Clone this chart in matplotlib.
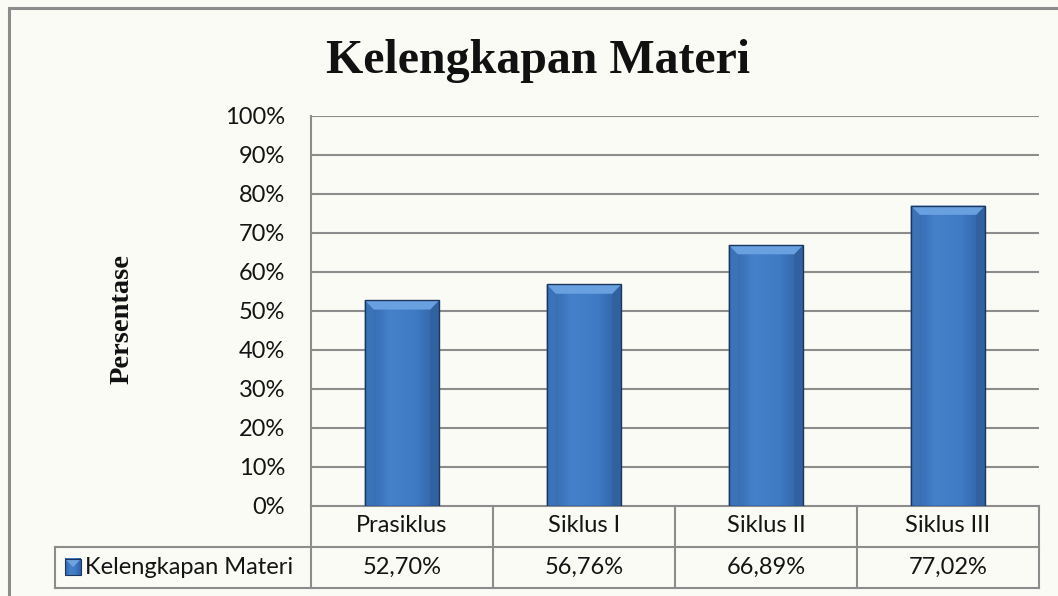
import matplotlib
matplotlib.use("Agg")
import matplotlib.pyplot as plt
import numpy as np
from matplotlib.colors import LinearSegmentedColormap
from matplotlib.patches import Polygon, Rectangle
from matplotlib.transforms import blended_transform_factory

# data
categories = ['Prasiklus', 'Siklus I', 'Siklus II', 'Siklus III']
values = [52.70, 56.76, 66.89, 77.02]
series_name = 'Kelengkapan Materi'
title = 'Kelengkapan Materi'
ylabel = 'Persentase'
yticks = list(range(0, 101, 10))

W, H = 1058, 596
bg = '#fbfbf5'
line_col = '#8c8c8c'
txt_col = '#141414'
sans = ['Lato', 'DejaVu Sans']
serif = ['Liberation Serif', 'DejaVu Serif']
fs = 17

fig = plt.figure(figsize=(W / 100, H / 100), dpi=100, facecolor=bg)

# outer chart frame (runs off the right/bottom edge like the source)
fig.add_artist(Rectangle((9 / W, -0.2), 1.2, 1 - 8 / H + 0.2, transform=fig.transFigure,
                         fill=False, edgecolor=line_col, lw=2.2))

ax = fig.add_axes([311 / W, 1 - 505.5 / H, 728 / W, 389.5 / H])
ax.set_facecolor('none')
x = np.arange(len(categories))

for s in ['top', 'right', 'bottom']:
    ax.spines[s].set_visible(False)
ax.spines['left'].set_color(line_col)
ax.spines['left'].set_linewidth(1.5)

ax.set_yticks(yticks)
ax.set_yticklabels([f'{t}%' for t in yticks], fontfamily=sans, fontsize=fs, color=txt_col)
ax.tick_params(axis='y', length=0, pad=18.5)
ax.set_xticks([])
for t in yticks[1:]:
    ax.axhline(t, color=line_col, lw=1.5, zorder=1)

# bars with a bevelled, gradient look
bw = 0.41
bx = 0.05
by = 2.4
grad_cmap = LinearSegmentedColormap.from_list('bar', ['#3265a8', '#4581cb', '#3f7bc4', '#305fa2'])
grad = np.linspace(0, 1, 64).reshape(1, -1)
bars = ax.bar(x, values, width=bw, color='#3b74ba', edgecolor='none', zorder=3)
for rect, v in zip(bars, values):
    x0 = rect.get_x()
    x1 = x0 + rect.get_width()
    im = ax.imshow(grad, extent=[x0, x1, 0, v], aspect='auto', cmap=grad_cmap, zorder=3.2)
    im.set_clip_path(rect)
    ax.add_patch(Polygon([(x0, 0), (x0, v), (x0 + bx, v - by), (x0 + bx, 0)],
                         closed=True, facecolor='#3b73b9', edgecolor='none', zorder=3.4))
    ax.add_patch(Polygon([(x1, 0), (x1, v), (x1 - bx, v - by), (x1 - bx, 0)],
                         closed=True, facecolor='#31619f', edgecolor='none', zorder=3.4))
    ax.add_patch(Polygon([(x0, v), (x1, v), (x1 - bx, v - by), (x0 + bx, v - by)],
                         closed=True, facecolor='#69a0e0', edgecolor='none', zorder=3.5))
    ax.add_patch(Rectangle((x0, 0), x1 - x0, v, fill=False, edgecolor='#1b355c', lw=1.0, zorder=3.6))

# data table under the plot
tr = blended_transform_factory(ax.transData, ax.transAxes)
rh = 41 / 389.5
legend_left = -0.5 - 256 / 182
right = len(categories) - 0.5
kw = dict(color=line_col, lw=1.5, transform=tr, clip_on=False, zorder=2)
ax.plot([-0.5, right], [0, 0], **kw)
ax.plot([legend_left, right], [-rh, -rh], **kw)
ax.plot([legend_left, right], [-2 * rh, -2 * rh], **kw)
for xb in np.arange(-0.5, right + 0.01, 1.0):
    ax.plot([xb, xb], [0, -2 * rh], **kw)
ax.plot([legend_left, legend_left], [-rh, -2 * rh], **kw)

for i, (c, v) in enumerate(zip(categories, values)):
    ax.text(i, -rh / 2, c, transform=tr, ha='center', va='center',
            fontfamily=sans, fontsize=fs, color=txt_col)
    ax.text(i, -1.5 * rh, f'{v:.2f}%'.replace('.', ','), transform=tr, ha='center', va='center',
            fontfamily=sans, fontsize=fs, color=txt_col)

# legend key inside the table
key_x = legend_left + 10 / 182
key_w = 16 / 182
key_h = 16 / 389.5
ax.imshow(grad, extent=[key_x, key_x + key_w, -1.5 * rh - key_h / 2, -1.5 * rh + key_h / 2],
          transform=tr, aspect='auto', cmap=grad_cmap, zorder=3, clip_on=False)
ax.add_patch(Polygon([(key_x, -1.5 * rh + key_h / 2), (key_x + key_w, -1.5 * rh + key_h / 2),
                      (key_x + key_w / 2, -1.5 * rh)], closed=True, transform=tr,
                     facecolor='#6ea3e2', edgecolor='none', clip_on=False, zorder=3.1))
ax.add_patch(Rectangle((key_x, -1.5 * rh - key_h / 2), key_w, key_h, transform=tr, fill=False,
                       edgecolor='#1b355c', lw=0.8, clip_on=False, zorder=3.2))
ax.text(key_x + key_w + 4 / 182, -1.5 * rh, series_name, transform=tr, ha='left', va='center',
        fontfamily=sans, fontsize=fs, color=txt_col)
ax.set_xlim(-0.5, len(categories) - 0.5)
ax.set_ylim(0, 100)

fig.text(538 / W, 1 - 73 / H, title, ha='center', va='baseline',
         fontfamily=serif, fontweight='bold', fontsize=34.5, color='#111111')
fig.text(122 / W, 1 - 319 / H, ylabel, ha='center', va='center', rotation=90,
         fontfamily=serif, fontweight='bold', fontsize=20.5, color='#111111')

fig.savefig('out.png', dpi=100, facecolor=bg)
